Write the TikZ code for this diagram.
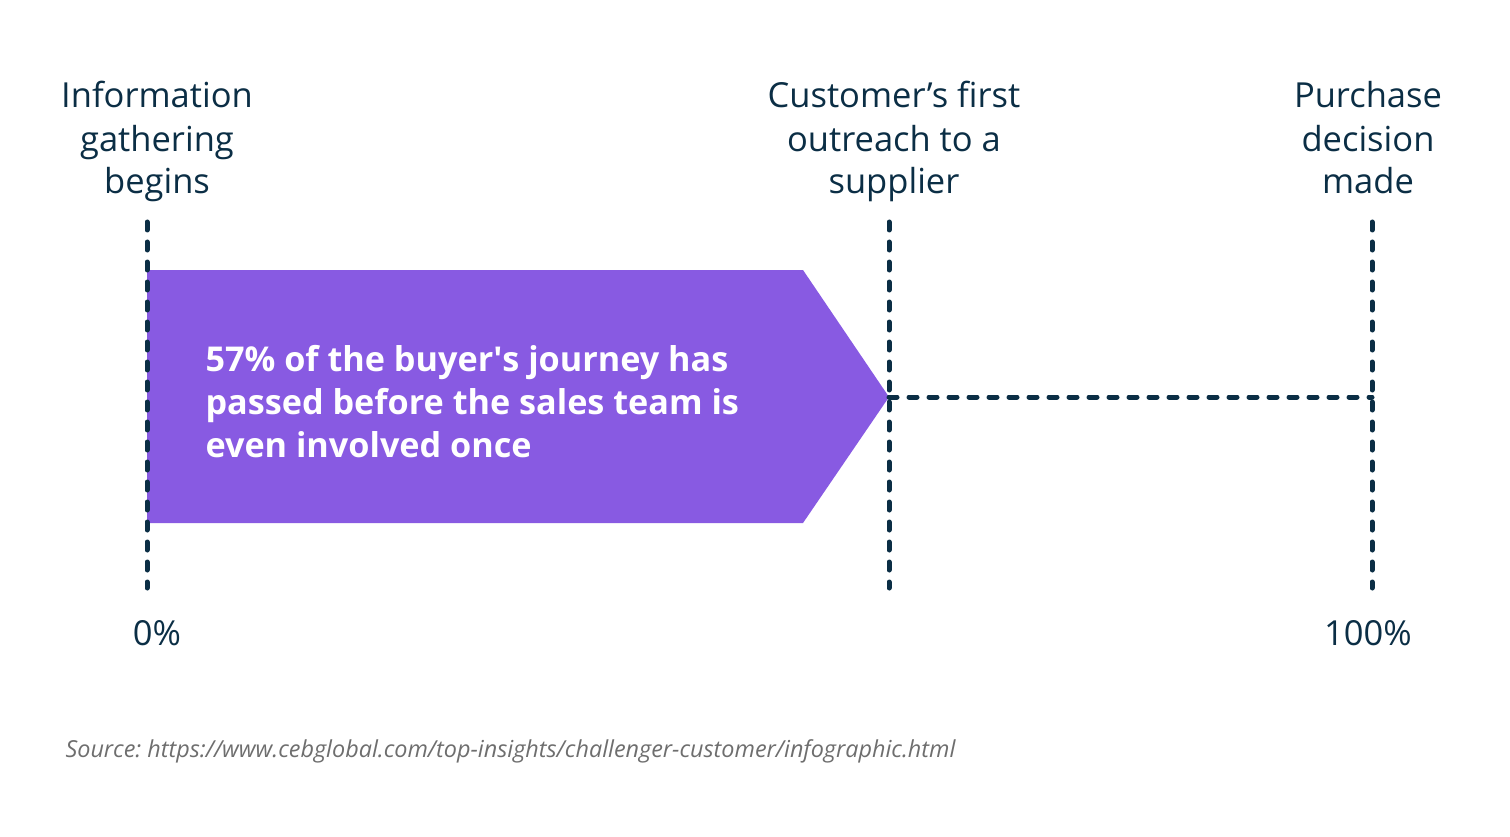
\documentclass[tikz,border=0pt]{standalone}
\usepackage{fontspec}
\setmainfont{Open Sans}
\usetikzlibrary{positioning}
\definecolor{navy}{HTML}{0B2E45}
\definecolor{violet}{HTML}{885AE2}
\definecolor{srcgray}{HTML}{6E6E6E}

\begin{document}
\frenchspacing
\begin{tikzpicture}[x=1pt, y=-1pt,
  guide/.style={navy, line width=5pt, line cap=round, dash pattern=on 8pt off 12pt},
  head/.style={align=center, anchor=base, text=navy, font=\fontsize{34.5}{43}\selectfont},
  pct/.style={anchor=base, text=navy, font=\fontsize{34.5}{43}\selectfont}]

\useasboundingbox (0,0) rectangle (1510,837);

% the part of the journey passed before the first contact
\fill[violet] (147,270) -- (803,270) -- (889,397) -- (803,523) -- (147,523) -- cycle;
\node[anchor=base west, align=left, text=white, font=\fontsize{34.2}{43}\bfseries\selectfont]
  (note) at (202,457) {57\% of the buyer\textquotesingle s journey has\\passed before the sales team is\\even involved once};

% milestones
\coordinate (t0) at (147,222);   \coordinate (b0) at (147,588);
\coordinate (t1) at (889,222);   \coordinate (b1) at (889,588);
\coordinate (t2) at (1372,222);  \coordinate (b2) at (1372,588);
\coordinate (tip) at (889,397);  \coordinate (end) at (1372,397);

\draw[guide] (t0) -- (b0);
\draw[guide] (t1) -- (b1);
\draw[guide] (t2) -- (b2);
\draw[guide] (tip) -- (end);

\node[head] (m0) at (157,194) {Information\\gathering\\begins};
\node[head] (m1) at (894,194) {Customer’s first\\outreach to a\\supplier};
\node[head] (m2) at (1368,194) {Purchase\\decision\\made};

\node[pct] (p0) at (157,645) {0\%};
\node[pct] (p2) at (1368,645) {100\%};

\node[anchor=base west, text=srcgray, font=\fontsize{23.4}{27}\itshape\selectfont]
  (src) at (62,757) {Source: https://www.cebglobal.com/top-insights/challenger-customer/infographic.html};

\end{tikzpicture}
\end{document}
